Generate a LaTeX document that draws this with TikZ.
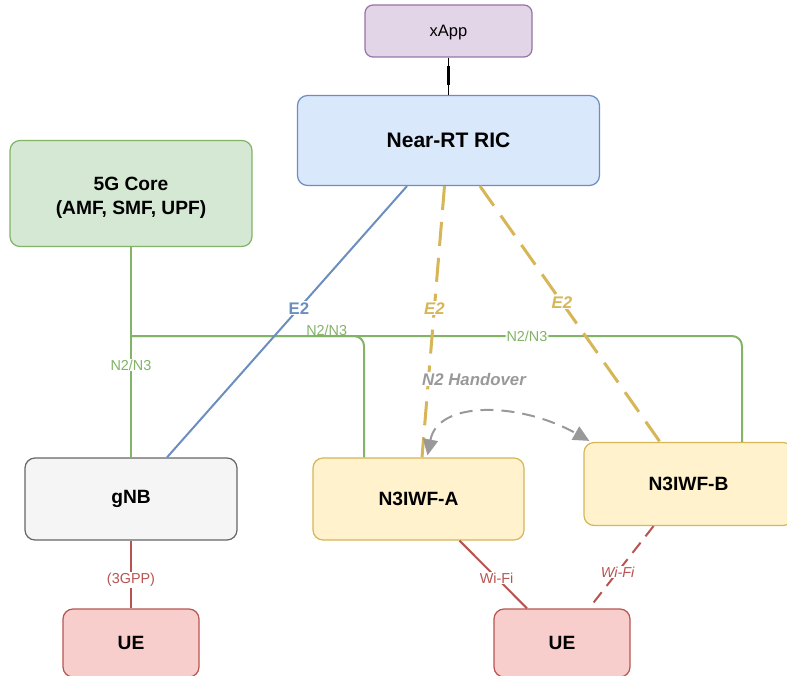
\documentclass[tikz,border=0pt]{standalone}
\usepackage{fontspec}
\setmainfont{Liberation Sans}
\usetikzlibrary{arrows.meta}

\definecolor{appfill}{HTML}{E1D5E7}
\definecolor{appdraw}{HTML}{9673A6}
\definecolor{ricfill}{HTML}{DAE8FC}
\definecolor{ricdraw}{HTML}{6C8EBF}
\definecolor{corefill}{HTML}{D5E8D4}
\definecolor{coredraw}{HTML}{82B366}
\definecolor{gnbfill}{HTML}{F5F5F5}
\definecolor{gnbdraw}{HTML}{666666}
\definecolor{iwffill}{HTML}{FFF2CC}
\definecolor{iwfdraw}{HTML}{D6B656}
\definecolor{uefill}{HTML}{F8CECC}
\definecolor{uedraw}{HTML}{B85450}
\definecolor{hogray}{HTML}{999999}

\begin{document}
\begin{tikzpicture}[x=1pt,y=-1pt,
  box/.style={draw, rounded corners=10pt, line width=1.2pt, inner sep=0pt, align=center,
    font=\fontsize{19.2}{24}\selectfont\bfseries},
  ngline/.style={draw=coredraw, line width=2pt},
  e2line/.style={draw=ricdraw, line width=2pt},
  e2dash/.style={draw=iwfdraw, line width=3pt, dash pattern=on 24pt off 12pt},
  radio/.style={draw=uedraw, line width=2pt},
  radiodash/.style={draw=uedraw, line width=2pt, dash pattern=on 13pt off 8pt},
  hoarrow/.style={draw=hogray, line width=2pt, dash pattern=on 13pt off 8pt,
    {Triangle[length=16pt,width=15pt]}-{Triangle[length=16pt,width=15pt]}},
  lbl/.style={fill=white, inner sep=1pt, font=\fontsize{14.4}{16}\selectfont},
  e2lbl/.style={fill=white, inner sep=1pt, font=\fontsize{16.8}{18}\selectfont\bfseries},
]
\useasboundingbox (0,0) rectangle (787,676);

% nodes
\node[box, fill=appfill, draw=appdraw, rounded corners=8pt, minimum width=167pt, minimum height=52pt,
  font=\fontsize{16.5}{20}\selectfont] (xapp) at (448.5,31) {};
\node[font=\fontsize{16.5}{20}\selectfont, inner sep=0pt] (xapptxt) at ([yshift=-2pt]xapp.center) {xApp};
\node[box, fill=ricfill, draw=ricdraw, minimum width=302pt, minimum height=90pt,
  font=\fontsize{21}{25}\selectfont\bfseries] (ric) at (448.5,140.5) {Near-RT RIC};
\node[box, fill=corefill, draw=coredraw, minimum width=242pt, minimum height=106pt] (core) at (131,193.5)
  {\\[-2pt]5G Core\\(AMF, SMF, UPF)};
\node[box, fill=gnbfill, draw=gnbdraw, minimum width=212pt, minimum height=82pt] (gnb) at (131,499) {gNB};
\node[box, fill=iwffill, draw=iwfdraw, minimum width=211pt, minimum height=82pt] (n3a) at (418.5,499) {N3IWF-A};
\node[box, fill=iwffill, draw=iwfdraw, minimum width=209pt, minimum height=83pt] (n3b) at (688.5,484) {N3IWF-B};
\node[box, fill=uefill, draw=uedraw, minimum width=136pt, minimum height=68pt] (ue1) at (131,643) {UE};
\node[box, fill=uefill, draw=uedraw, minimum width=136pt, minimum height=68pt] (ue2) at (562,643) {UE};

% attachment points on the node borders
\coordinate (nj) at (core.south |- 0,336);
\coordinate (n3aIn) at ([xshift=-54.5pt]n3a.north);
\coordinate (n3bIn) at ([xshift=53.5pt]n3b.north);
\coordinate (ricB) at ([xshift=-41.5pt]ric.south);
\coordinate (gnbE) at ([xshift=36pt]gnb.north);
\coordinate (ricY1) at ([xshift=-4pt]ric.south);
\coordinate (n3aY) at ([xshift=3.5pt]n3a.north);
\coordinate (ricY2) at ([xshift=31.5pt]ric.south);
\coordinate (n3bY) at ([xshift=-28.5pt]n3b.north);
\coordinate (n3aH) at ([xshift=9pt,yshift=2pt]n3a.north);
\coordinate (n3bH) at ([xshift=6pt,yshift=1pt]n3b.north west);
\coordinate (n3aR) at ([xshift=41pt]n3a.south);
\coordinate (ue2R) at ([xshift=-35pt]ue2.north);
\coordinate (n3bR) at ([xshift=-35pt]n3b.south);
\coordinate (ue2D) at ([xshift=27pt]ue2.north);

% xApp to RIC
\draw[line width=1.2pt] (xapp.south) -- (ric.north);
\draw[line width=3pt] ([yshift=-8pt]xapp.south) -- ([yshift=10pt]ric.north);

% N2/N3 backhaul
\draw[ngline] (core.south) -- (gnb.north)
  node[lbl, text=coredraw, pos=0.56] {N2/N3};
\draw[ngline, rounded corners=10pt] (nj) -| (n3aIn)
  node[pos=0.42, anchor=base, inner sep=0pt, yshift=1pt, text=coredraw,
    font=\fontsize{14.4}{16}\selectfont] {N2/N3};
\draw[ngline, rounded corners=10pt] (nj) -| (n3bIn)
  node[lbl, text=coredraw, pos=0.324] {N2/N3};

% E2 interfaces
\draw[e2line] (ricB) -- (gnbE) node[e2lbl, text=ricdraw, pos=0.45] {E2};
\draw[e2dash] (ricY1) -- (n3aY)
  node[e2lbl, text=iwfdraw, pos=0.45, font=\fontsize{16.8}{18}\selectfont\bfseries\itshape] {E2};
\draw[e2dash] (ricY2) -- (n3bY)
  node[e2lbl, text=iwfdraw, pos=0.455, font=\fontsize{16.8}{18}\selectfont\bfseries\itshape] {E2};

% handover between the two N3IWFs
\node[e2lbl, text=hogray, font=\fontsize{16.8}{18}\selectfont\bfseries\itshape] (holbl) at (474,379) {N2 Handover};
\draw[hoarrow] (n3aH) .. controls (438,400) and (520,402) .. (n3bH);

% radio links to the UEs
\draw[radio] (gnb.south) -- (ue1.north) node[lbl, text=uedraw, pos=0.58] {(3GPP)};
\draw[radio] (n3aR) -- (ue2R) node[lbl, text=uedraw, pos=0.55] {Wi-Fi};
\draw[radiodash] (n3bR) -- (ue2D)
  node[lbl, text=uedraw, pos=0.557, font=\fontsize{14.4}{16}\selectfont\itshape] {Wi-Fi};
\end{tikzpicture}
\end{document}
